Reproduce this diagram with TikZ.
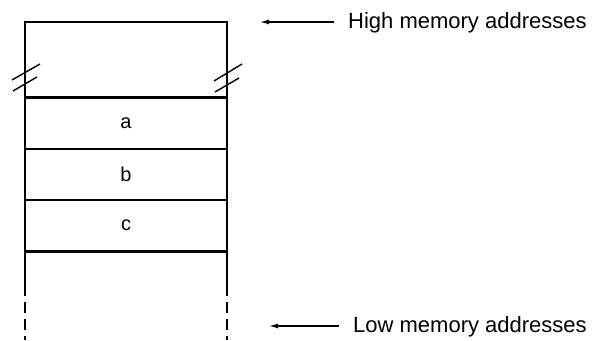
\documentclass[tikz,border=0pt]{standalone}
\usepackage{fontspec}
\setmainfont{Liberation Sans}
\usetikzlibrary{arrows.meta}
\begin{document}
\begin{tikzpicture}[x=1pt,y=-1pt,
  wall/.style={line width=1.8pt},
  cell/.style={draw,line width=1.6pt,minimum width=202pt,minimum height=51pt,
               inner sep=0pt,font=\fontsize{20}{24}\selectfont},
  brk/.style={line width=1.4pt},
  note/.style={inner sep=0pt,anchor=base west,font=\fontsize{22}{26}\selectfont},
  pointer/.style={line width=1.3pt,-{Latex[length=9pt,width=5pt]},shorten <=14pt}]
  \useasboundingbox (0,0) rectangle (594,340);

  % stack frame cells
  \node[cell] (a) at (126,123.5) {a};
  \node[cell] (b) at (126,174.5) {b};
  \node[cell] (c) at (126,225.5) {c};

  % frame walls: top edge and sides, solid down to the open end
  \coordinate (tl) at (25,22);
  \coordinate (tr) at (227,22);
  \coordinate (sl) at (25,285);
  \coordinate (sr) at (227,285);
  \coordinate (bl) at (25,340);
  \coordinate (br) at (227,340);
  \draw[wall] (sl) -- (tl) -- (tr) -- (sr);
  \draw[wall] (a.north west) -- (a.north east);
  \draw[wall] (c.south west) -- (c.south east);
  \draw[wall,dash pattern=on 11pt off 6pt] (sl) -- (bl);
  \draw[wall,dash pattern=on 11pt off 6pt] (sr) -- (br);

  % break marks on both walls
  \draw[brk] (12,80) -- (40,64);
  \draw[brk] (13,91) -- (37,77);
  \draw[brk] (214,81) -- (242,64);
  \draw[brk] (215,92) -- (239,78);

  % address labels with pointers
  \node[note] (high) at (348,28) {High memory addresses};
  \node[note] (low) at (353,332) {Low memory addresses};
  \coordinate (hightip) at (260,22);
  \coordinate (lowtip) at (269,326);
  \draw[pointer] (high.west |- hightip) -- (hightip);
  \draw[pointer] (low.west |- lowtip) -- (lowtip);
\end{tikzpicture}
\end{document}
